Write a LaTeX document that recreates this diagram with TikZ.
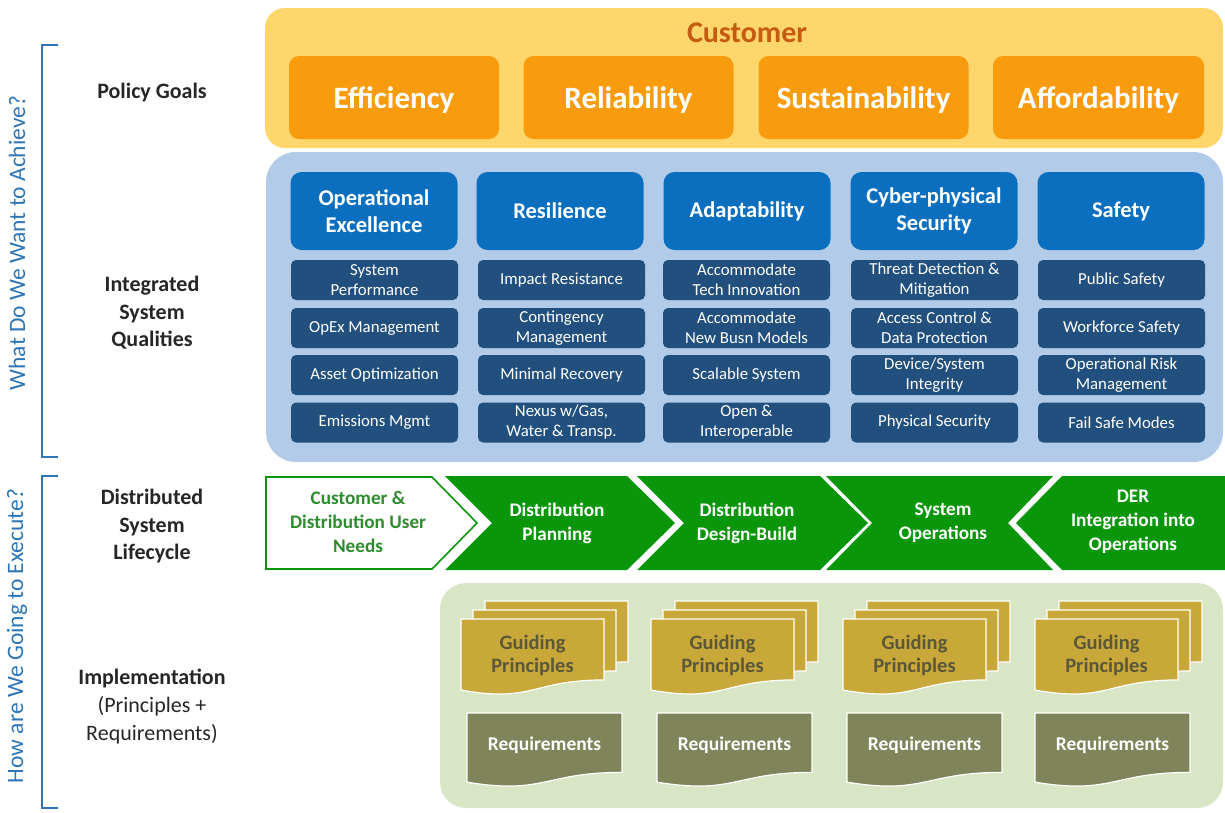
\documentclass[tikz,border=0pt]{standalone}
\usepackage{fontspec}
\setmainfont{Carlito}
\definecolor{custbg}{HTML}{FED66B}
\definecolor{custtxt}{HTML}{C55A11}
\definecolor{orng}{HTML}{F89C0E}
\definecolor{bluebg}{HTML}{B2CBE9}
\definecolor{bluehead}{HTML}{0B6FC0}
\definecolor{darkblue}{HTML}{21507F}
\definecolor{grn}{HTML}{0A960A}
\definecolor{grntxt}{HTML}{2E8B2E}
\definecolor{greenbg}{HTML}{D9E6C6}
\definecolor{gold}{HTML}{C9A83A}
\definecolor{gptxt}{HTML}{5B5838}
\definecolor{olive}{HTML}{80845A}
\definecolor{brblue}{HTML}{2E75B6}
\definecolor{lbltxt}{HTML}{262626}
\newcommand\docshape[5]{%
  \filldraw[#5] ({#1},{#2}) -- ({#1+#3},{#2}) -- ({#1+#3},{#2+0.802*#4})
    .. controls ({#1+0.5*#3},{#2+0.802*#4}) and ({#1+0.5*#3},{#2+1.107*#4}) .. ({#1},{#2+0.934*#4}) -- cycle;}
\begin{document}
\begin{tikzpicture}[x=1pt,y=-1pt,
  goalbox/.style={fill=orng, rounded corners=10pt, text=white, text depth=0pt, font=\bfseries\fontsize{31}{33}\selectfont},
  headbox/.style={fill=bluehead, rounded corners=11pt, text=white, align=center, font=\bfseries\fontsize{22.5}{27.5}\selectfont},
  subbox/.style={fill=darkblue, rounded corners=5pt, text=white, align=center},
  subtxt/.style={text=white, align=center, font=\fontsize{16.8}{20}\selectfont},
  lefttxt/.style={text=lbltxt, align=center, font=\bfseries\fontsize{22}{27.5}\selectfont},
  chevtxt/.style={text=white, align=center, font=\bfseries\fontsize{19.2}{24}\selectfont},
  gptext/.style={text=gptxt, align=center, font=\bfseries\fontsize{20.5}{23}\selectfont},
  reqtext/.style={text=white, font=\bfseries\fontsize{19.5}{20}\selectfont},
  bracket/.style={draw=brblue, line width=2.2pt},
  sidetxt/.style={text=brblue, font=\fontsize{23.5}{25}\selectfont, rotate=90}
]
\useasboundingbox (0,0) rectangle (1225,812);

% ---------- left labels ----------
\node[lefttxt] (lpg) at (152,93) {Policy Goals};
\node[lefttxt] (lisq) at (152,313) {Integrated\\System\\Qualities};
\node[lefttxt] (ldsl) at (152,526) {Distributed\\System\\Lifecycle};
\node[text=lbltxt, align=center, font=\fontsize{22}{28}\selectfont] (limp) at (152,707) {\textbf{Implementation}\\(Principles +\\Requirements)};

% brackets
\coordinate (b1t) at (58,45); \coordinate (b1b) at (58,457);
\draw[bracket] (b1t) -- (42,45) -- (42,457) -- (b1b);
\coordinate (b2t) at (58,476); \coordinate (b2b) at (58,808);
\draw[bracket] (b2t) -- (42,476) -- (42,808) -- (b2b);
\node[sidetxt] (s1) at (17,243) {What Do We Want to Achieve?};
\node[sidetxt] (s2) at (17,636) {How are We Going to Execute?};

% ---------- Customer / policy goals ----------
\fill[custbg, rounded corners=20pt] (265,8) rectangle (1223,148);
\node[text=custtxt, font=\bfseries\fontsize{30}{32}\selectfont] (cust) at (747,33) {Customer};
\node[goalbox, minimum width=210pt, minimum height=83pt] (g1) at (394,97.5) {Efficiency};
\node[goalbox, minimum width=210pt, minimum height=83pt] (g2) at (628.5,97.5) {Reliability};
\node[goalbox, minimum width=210pt, minimum height=83pt] (g3) at (863.5,97.5) {Sustainability};
\node[goalbox, minimum width=211pt, minimum height=83pt] (g4) at (1098.5,97.5) {Affordability};

% ---------- integrated system qualities ----------
\fill[bluebg, rounded corners=30pt] (266,152) rectangle (1223,462);
\foreach \cx/\nm/\txt in {374/oe/{Operational\\Excellence}, 560/re/{Resilience}, 747/ad/{Adaptability}, 934/cs/{Cyber-physical\\Security}, 1121/sa/{Safety}} {
  \node[headbox, minimum width=167pt, minimum height=78pt] (h\nm) at (\cx,211) {\txt};
}
% sub boxes
\foreach \cx/\nm in {374.5/oe, 561.5/re, 746.5/ad, 934.5/cs, 1121.5/sa} {
  \node[subbox, minimum width=167pt, minimum height=40pt] (\nm1) at (\cx,280) {};
  \node[subbox, minimum width=167pt, minimum height=40pt] (\nm2) at (\cx,328) {};
  \node[subbox, minimum width=167pt, minimum height=40pt] (\nm3) at (\cx,375) {};
  \node[subbox, minimum width=167pt, minimum height=40pt] (\nm4) at (\cx,422.5) {};
}
\foreach \nm/\a/\b/\c/\d in {
  oe/{System\\Performance}/{OpEx Management}/{Asset Optimization}/{Emissions Mgmt},
  re/{Impact Resistance}/{Contingency\\Management}/{Minimal Recovery}/{Nexus w/Gas,\\Water \& Transp.},
  ad/{Accommodate\\Tech Innovation}/{Accommodate\\New Busn Models}/{Scalable System}/{Open \&\\Interoperable},
  cs/{Threat Detection \&\\Mitigation}/{Access Control \&\\Data Protection}/{Device/System\\Integrity}/{Physical Security},
  sa/{Public Safety}/{Workforce Safety}/{Operational Risk\\Management}/{Fail Safe Modes}} {
  \node[subtxt] (t\nm1) at (\nm1) {\a};
  \node[subtxt] (t\nm2) at (\nm2) {\b};
  \node[subtxt] (t\nm3) at (\nm3) {\c};
  \node[subtxt] (t\nm4) at (\nm4) {\d};
}

% ---------- lifecycle chevrons ----------
\filldraw[fill=white, draw=grn, line width=1.6pt] (266,477) -- (432,477) -- (477,523) -- (432,569) -- (266,569) -- cycle;
\node[chevtxt, text=grntxt] (c1) at (358,522) {Customer \&\\Distribution User\\Needs};
\fill[grn] (445,476) -- (627,476) -- (675,523) -- (627,570) -- (445,570) -- (492,523) -- cycle;
\node[chevtxt] (c2) at (557,523) {Distribution\\Planning};
\fill[grn] (637,476) -- (820,476) -- (868,523) -- (820,570) -- (637,570) -- (684,523) -- cycle;
\node[chevtxt] (c3) at (747,523) {Distribution\\Design-Build};
\fill[grn] (826,476) -- (1053,476) -- (1008,523) -- (1053,570) -- (826,570) -- (872,523) -- cycle;
\node[chevtxt] (c4) at (943,523) {System\\Operations};
\fill[grn] (1062,476) -- (1225,476) -- (1225,570) -- (1062,570) -- (1016,523) -- cycle;
\node[chevtxt] (c5) at (1133,522) {DER\\Integration into\\Operations};

% ---------- implementation ----------
\fill[greenbg, rounded corners=26pt] (440,583) rectangle (1223,808);
\foreach \gx/\rx/\nm in {461/467/a, 651/657/b, 843/847/c, 1035/1035/d} {
  \docshape{\gx+24}{601}{143}{76}{fill=gold, draw=white, line width=1.2pt}
  \docshape{\gx+12}{610}{143}{76}{fill=gold, draw=white, line width=1.2pt}
  \docshape{\gx}{619}{143}{76}{fill=gold, draw=white, line width=1.2pt}
  \node[gptext] (gp\nm) at (\gx+71.5,655) {Guiding\\Principles};
  \docshape{\rx}{713}{155}{74}{fill=olive, draw=white, line width=1.2pt}
  \node[reqtext] (rq\nm) at (\rx+77.5,745) {Requirements};
}
\end{tikzpicture}
\end{document}
